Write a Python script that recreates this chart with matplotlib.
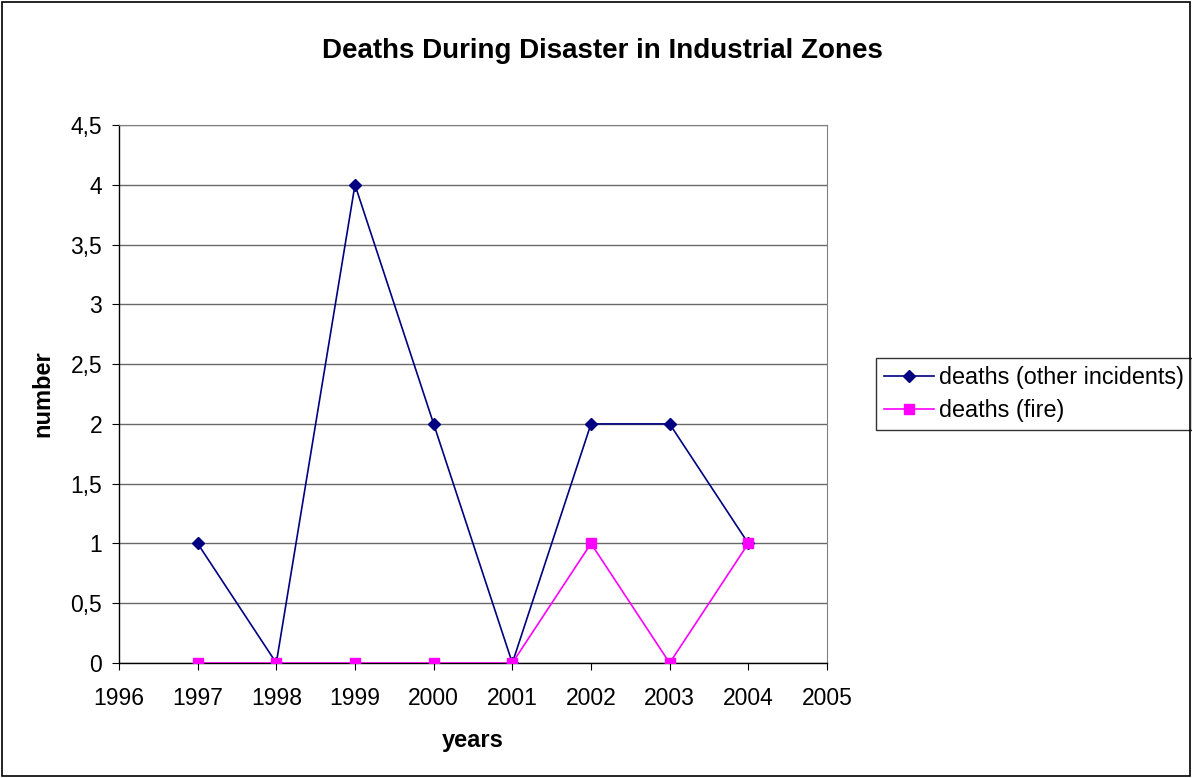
import matplotlib.pyplot as plt
from matplotlib.ticker import FuncFormatter, MultipleLocator
from matplotlib.patches import Rectangle

plt.rcParams['font.family'] = ['Liberation Sans', 'DejaVu Sans']

# data
years = [1997, 1998, 1999, 2000, 2001, 2002, 2003, 2004]
deaths_other = [1, 0, 4, 2, 0, 2, 2, 1]
deaths_fire = [0, 0, 0, 0, 0, 1, 0, 1]

fig = plt.figure(figsize=(11.92, 7.78), dpi=100)
ax = fig.add_axes([0.0998, 0.1478, 0.594, 0.6915])

# outer frame around the whole figure
fig.patches.append(Rectangle((0.002, 0.002), 0.996, 0.996, transform=fig.transFigure,
                             fill=False, edgecolor='black', linewidth=1.2))

ax.plot(years, deaths_other, color='#000080', marker='D', markersize=6.5,
        linewidth=1.2, label='deaths (other incidents)', zorder=3)
ax.plot(years, deaths_fire, color='#FF00FF', marker='s', markersize=7,
        linewidth=1.2, label='deaths (fire)', zorder=4)

ax.set_xlim(1996, 2005)
ax.set_ylim(0, 4.5)
ax.xaxis.set_major_locator(MultipleLocator(1))
ax.yaxis.set_major_locator(MultipleLocator(0.5))
ax.yaxis.set_major_formatter(FuncFormatter(lambda v, p: ('%g' % v).replace('.', ',')))

ax.grid(axis='y', color='#6a6a6a', linewidth=1.0)
ax.set_axisbelow(True)
for s in ['top', 'right']:
    ax.spines[s].set_color('#808080')
for s in ['left', 'bottom']:
    ax.spines[s].set_color('black')
    ax.spines[s].set_linewidth(1.0)

ax.tick_params(axis='x', direction='out', length=5, labelsize=16.5, pad=12)
ax.tick_params(axis='y', direction='out', length=5, labelsize=16.5, pad=7)

fig.text(0.505, 1 - 51 / 778, 'Deaths During Disaster in Industrial Zones',
         fontsize=20, fontweight='bold', ha='center', va='center')
ax.set_xlabel('years', fontsize=17, fontweight='bold', labelpad=14)
ax.set_ylabel('number', fontsize=17, fontweight='bold', labelpad=12)

leg = ax.legend(loc='center left', bbox_to_anchor=(1.069, 0.5), borderaxespad=0,
                fontsize=16.8, frameon=True, fancybox=False, edgecolor='black',
                handlelength=2.15, borderpad=0.35, labelspacing=0.45,
                handletextpad=0.2)
leg.get_frame().set_linewidth(1.0)

fig.savefig('out.png', dpi=100)
